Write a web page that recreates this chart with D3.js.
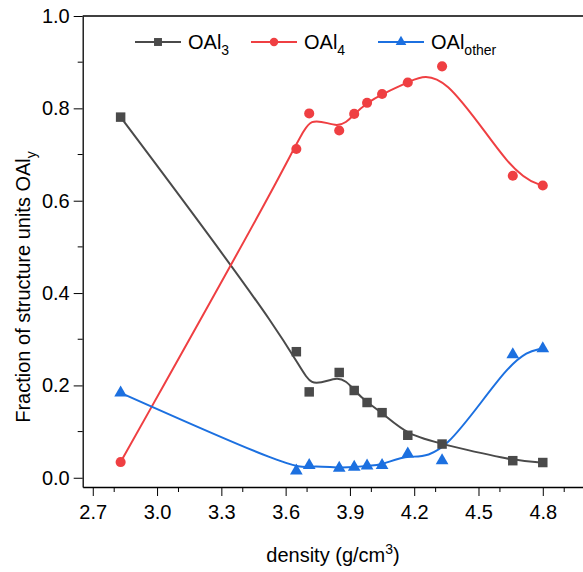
<!DOCTYPE html>
<html>
<head>
<meta charset="utf-8">
<script src="https://cdn.jsdelivr.net/npm/d3@7"></script>
<style>
body { margin: 0; background: #fff; }
text { font-family: "Liberation Sans", Arial, sans-serif; fill: #000; }
</style>
</head>
<body>
<svg></svg>
<script>
var density = [2.83, 3.65, 3.71, 3.85, 3.92, 3.98, 4.05, 4.17, 4.33, 4.66, 4.80];
var oal3 = [0.781, 0.273, 0.186, 0.228, 0.189, 0.163, 0.141, 0.092, 0.073, 0.037, 0.033];
var oal4 = [0.034, 0.712, 0.789, 0.752, 0.788, 0.812, 0.831, 0.856, 0.891, 0.654, 0.633];
var oalOther = [0.184, 0.015, 0.027, 0.021, 0.023, 0.026, 0.027, 0.052, 0.037, 0.267, 0.280];
var xTicks = [2.7, 3.0, 3.3, 3.6, 3.9, 4.2, 4.5, 4.8];
var yTicks = [0.0, 0.2, 0.4, 0.6, 0.8, 1.0];

var svgWidth = 583, svgHeight = 572;
var svg = d3.select("svg").attr("width", svgWidth).attr("height", svgHeight);

var x = d3.scaleLinear().domain([2.653, 4.99]).range([82.7, 583.5]);
var y = d3.scaleLinear().domain([-0.02, 1.0]).range([487, 16]);

// axes
var xAxis = d3.axisBottom(x).tickValues(xTicks).tickFormat(d3.format(".1f")).tickSize(9).tickSizeOuter(0).tickPadding(9);
var gx = svg.append("g").attr("transform", "translate(0,487)").call(xAxis);
gx.selectAll(".tick text").style("font-size", "20px").attr("font-family", null);
gx.append("g").selectAll("line")
    .data(d3.range(2.8, 5.0, 0.3))
    .enter().append("line")
    .attr("x1", function(d){ return x(d); })
    .attr("x2", function(d){ return x(d); })
    .attr("y1", 0).attr("y2", 5).attr("stroke", "#000");

var yAxis = d3.axisLeft(y).tickValues(yTicks).tickFormat(d3.format(".1f")).tickSize(9).tickSizeOuter(0).tickPadding(4);
var gy = svg.append("g").attr("transform", "translate(82.7,0)").call(yAxis);
gy.selectAll(".tick text").style("font-size", "20px").attr("font-family", null);
gy.append("g").selectAll("line")
    .data([0.1, 0.3, 0.5, 0.7, 0.9])
    .enter().append("line")
    .attr("x1", -5).attr("x2", 0)
    .attr("y1", function(d){ return y(d); })
    .attr("y2", function(d){ return y(d); })
    .attr("stroke", "#000");
svg.selectAll(".domain").attr("stroke-width", 1.3);

// top frame line
svg.append("line").attr("x1", 82.7).attr("x2", 583).attr("y1", 16).attr("y2", 16)
    .attr("stroke", "#000").attr("stroke-width", 1.3);

// titles
var xt = svg.append("text").attr("x", 333).attr("y", 562).attr("text-anchor", "middle").style("font-size", "20px");
xt.append("tspan").text("density (g/cm");
xt.append("tspan").attr("dy", -8).style("font-size", "14px").text("3");
xt.append("tspan").attr("dy", 8).text(")");

var yt = svg.append("text").attr("transform", "translate(30,287) rotate(-90)").attr("text-anchor", "middle").style("font-size", "20px");
yt.append("tspan").text("Fraction of structure units OAl");
yt.append("tspan").attr("dy", 6).style("font-size", "14px").text("y");

var series = [
    {name: "3", values: oal3, color: "#4a4a4a", shape: d3.symbolSquare, size: 90},
    {name: "4", values: oal4, color: "#ef3f42", shape: d3.symbolCircle, size: 80},
    {name: "other", values: oalOther, color: "#1c70e0", shape: d3.symbolTriangle, size: 70}
];

var line = d3.line()
    .x(function(d){ return x(d[0]); })
    .y(function(d){ return y(d[1]); })
    .curve(d3.curveBasis);

var plot = svg.append("g");
series.forEach(function(s){
    var pts = density.map(function(d, i){ return [d, s.values[i]]; });
    plot.append("path").datum(pts)
        .attr("d", line)
        .attr("fill", "none")
        .attr("stroke", s.color)
        .attr("stroke-width", 2);
});
series.forEach(function(s){
    var pts = density.map(function(d, i){ return [d, s.values[i]]; });
    plot.selectAll(null).data(pts).enter().append("path")
        .attr("d", d3.symbol().type(s.shape).size(s.size))
        .attr("transform", function(d){ return "translate(" + x(d[0]) + "," + y(d[1]) + ")"; })
        .attr("fill", s.color);
});

// legend
var legendX = [135, 251, 378];
var legend = svg.append("g");
series.forEach(function(s, i){
    var g = legend.append("g").attr("transform", "translate(" + legendX[i] + ",42)");
    g.append("line").attr("x1", 0).attr("x2", 46).attr("stroke", s.color).attr("stroke-width", 2);
    g.append("path").attr("d", d3.symbol().type(s.shape).size(s.size * 0.7))
        .attr("transform", "translate(23,0)").attr("fill", s.color);
    var t = g.append("text").attr("x", 53).attr("y", 7).style("font-size", "20px");
    t.append("tspan").text("OAl");
    t.append("tspan").attr("dy", 6).style("font-size", "14px").text(s.name);
});
</script>
</body>
</html>
